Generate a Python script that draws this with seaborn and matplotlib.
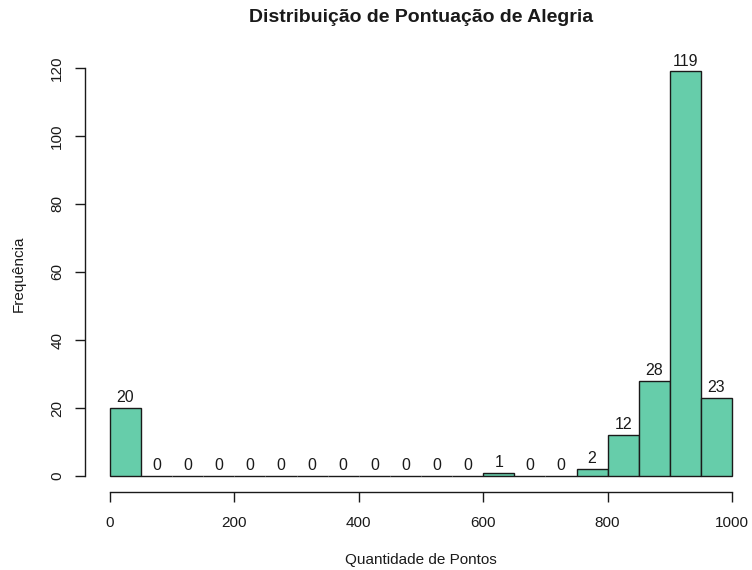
import numpy as np
import matplotlib
matplotlib.use("Agg")
import matplotlib.pyplot as plt
import seaborn as sns

# histogram bins (width 50) and counts
bin_edges = list(range(0, 1001, 50))
counts = [20, 0, 0, 0, 0, 0, 0, 0, 0, 0, 0, 0, 1, 0, 0, 2, 12, 28, 119, 23]
x_ticks = [0, 200, 400, 600, 800, 1000]
y_ticks = [0, 20, 40, 60, 80, 100, 120]

title = "Distribuição de Pontuação de Alegria"
x_label = "Quantidade de Pontos"
y_label = "Frequência"

sns.set_style("ticks")
plt.rcParams["font.family"] = ["Liberation Sans", "DejaVu Sans"]

centers = [(a + b) / 2 for a, b in zip(bin_edges[:-1], bin_edges[1:])]

fig = plt.figure(figsize=(7.52, 5.70), dpi=100)
ax = fig.add_axes([85.1 / 752, (570 - 492.2) / 570, 671.8 / 752, 437 / 570])

sns.histplot(x=centers, weights=counts, bins=bin_edges, ax=ax,
             color="#66CDAA", alpha=1, edgecolor="#1a1a1a", linewidth=1.0)

ax.bar_label(ax.containers[0], labels=[str(c) for c in counts],
             padding=2, fontsize=11.5, color="#1a1a1a")

ax.set_xlim(-40, 1040)
ax.set_ylim(-4.76, 123.76)
ax.set_xticks(x_ticks)
ax.set_yticks(y_ticks)
ax.tick_params(axis="both", direction="out", length=7, width=1,
               labelsize=11, colors="#1a1a1a")
ax.tick_params(axis="x", pad=10)
ax.tick_params(axis="y", pad=8)
for lab in ax.get_yticklabels():
    lab.set_rotation(90)
    lab.set_va("center")

sns.despine(ax=ax)
ax.spines["left"].set_bounds(0, 120)
ax.spines["bottom"].set_bounds(0, 1000)
for s in ("left", "bottom"):
    ax.spines[s].set_color("#1a1a1a")
    ax.spines[s].set_linewidth(1)

ax.set_xlabel(x_label, fontsize=11, labelpad=17, color="#1a1a1a")
ax.set_ylabel(y_label, fontsize=11, labelpad=18, color="#1a1a1a")
fig.text(421 / 752, 1 - 18 / 570, title, ha="center", va="center",
         fontsize=14, fontweight="bold", color="#1a1a1a")

fig.savefig("out.png", dpi=100)
